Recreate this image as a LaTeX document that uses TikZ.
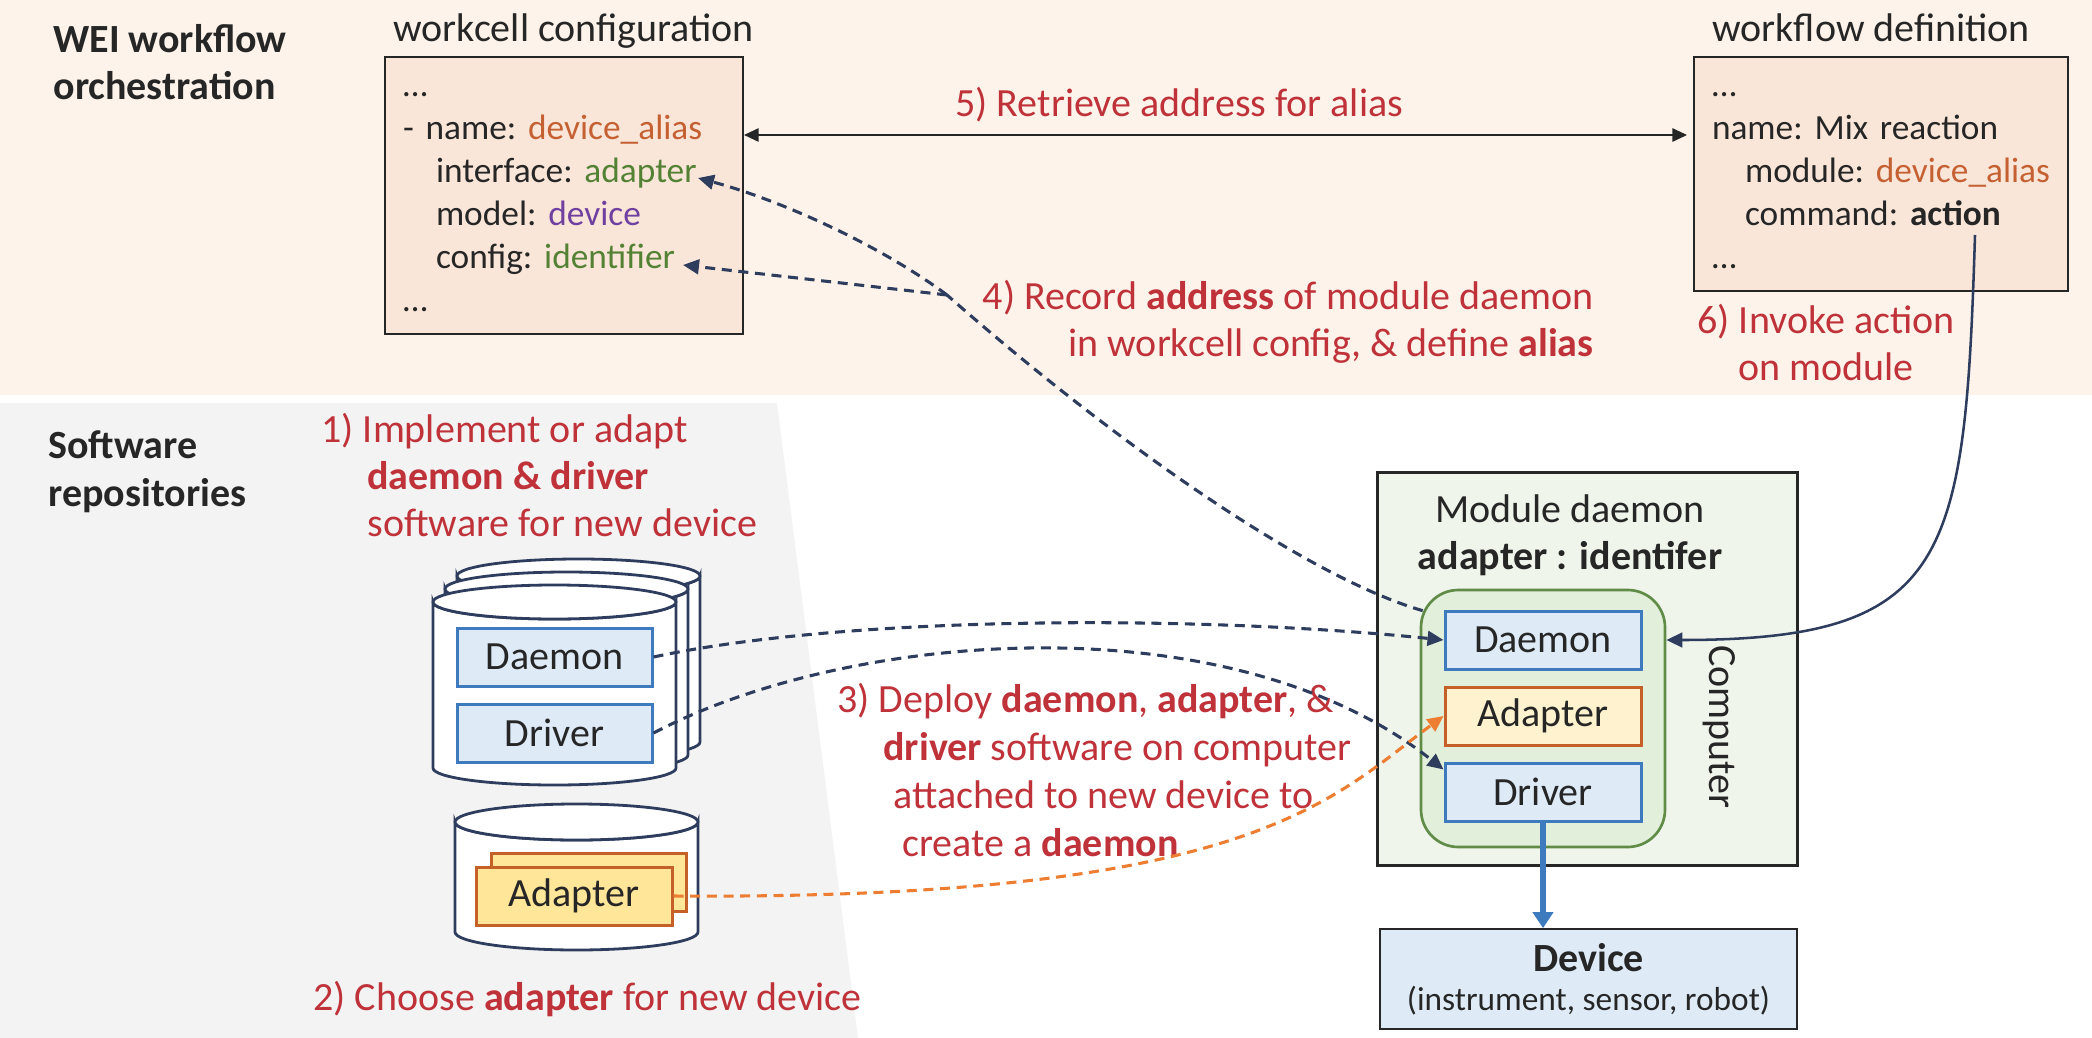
\documentclass[tikz,border=0pt]{standalone}
\usepackage{fontspec}
\setmainfont{Carlito}
\usepackage{tikz}
\usetikzlibrary{arrows.meta,calc}
\definecolor{bandpeach}{RGB}{253,243,234}
\definecolor{repogrey}{RGB}{243,243,243}
\definecolor{cfgfill}{RGB}{250,230,216}
\definecolor{darkline}{RGB}{38,38,38}
\definecolor{darktext}{RGB}{38,38,38}
\definecolor{stepred}{RGB}{192,50,58}
\definecolor{aliasorange}{RGB}{197,96,50}
\definecolor{cfggreen}{RGB}{84,130,53}
\definecolor{devpurple}{RGB}{112,64,160}
\definecolor{navy}{RGB}{46,61,94}
\definecolor{dashorange}{RGB}{237,125,49}
\definecolor{boxblue}{RGB}{61,122,190}
\definecolor{boxbluefill}{RGB}{222,235,247}
\definecolor{adpborder}{RGB}{197,96,40}
\definecolor{adpfill}{RGB}{255,230,153}
\definecolor{adplight}{RGB}{255,243,207}
\definecolor{compfill}{RGB}{240,245,235}
\definecolor{grpfill}{RGB}{226,239,218}
\definecolor{grpgreen}{RGB}{96,140,72}
\tikzset{every picture/.style={line width=0.75pt}}
\tikzset{
  hdr/.style={inner sep=0pt, text=darktext, font=\fontsize{30}{35.25}\selectfont},
  stepnote/.style={inner sep=0pt, text=stepred, align=left, font=\fontsize{30}{35.25}\selectfont},
  cfgbox/.style={draw=darkline, fill=cfgfill, line width=1.5pt, align=left, inner xsep=13.5pt, inner ysep=0pt, text=darktext, font=\fontsize{26.5}{32.25}\selectfont},
  swbox/.style={draw=boxblue, fill=boxbluefill, line width=2.25pt, inner sep=0pt, text=darktext, font=\fontsize{30}{36}\selectfont},
  adpbox/.style={swbox, draw=adpborder, fill=adpfill},
  cyl/.style={draw=navy, fill=white, line width=2.1pt},
  deploy/.style={draw=navy, line width=2.3pt, dash pattern=on 7.5pt off 5pt, -{Triangle[length=12pt,width=11pt]}},
  deployadp/.style={deploy, draw=dashorange},
  retrieve/.style={draw=darkline, line width=1.4pt, {Triangle[length=11pt,width=10pt]}-{Triangle[length=11pt,width=10pt]}},
  invoke/.style={draw=navy, line width=1.9pt, -{Triangle[length=12pt,width=11pt]}}
}

\begin{document}
\begin{tikzpicture}[x=0.75pt,y=0.75pt,yscale=-1,xscale=1]
		%set diagram left start at 0, and has height of 1038
		\useasboundingbox (0,0) rectangle (2092,1038);
		
		%Shape: Rectangle [id:dp3051820471669132] 
		\fill [bandpeach] (0,0) rectangle (2092,395) ;
		%Shape: Trapezoid [id:dp7741039258113406] 
		\fill [repogrey] (0,403) -- (777,403) -- (858,1038) -- (0,1038) -- cycle ;
		
		\node (weititle) [hdr, anchor=north west, align=left, font=\fontsize{30}{35.25}\selectfont\bfseries] at (53,24) {WEI workflow\\orchestration};
		\node (swtitle) [hdr, anchor=north west, align=left, font=\fontsize{30}{36}\selectfont\bfseries] at (48,430) {Software\\repositories};
		
		%Shape: Rectangle [id:dp8835120674407712] 
		\node (wchead) [hdr, anchor=base west] at (393,42) {workcell configuration};
		\node (wcbox) [cfgbox, minimum height=207.75pt, text width=241.5pt] at (564,195.5) {\strut\ldots\\
			- name:~\mbox{\textcolor{aliasorange}{device\_alias}}\\
			\hspace*{24.75pt}interface:~\textcolor{cfggreen}{adapter}\\
			\hspace*{24.75pt}model:~\textcolor{devpurple}{device}\\
			\hspace*{24.75pt}config:~\mbox{\textcolor{cfggreen}{identifier}}\\
			\ldots\strut};
		%Shape: Rectangle [id:dp2197485530016624] 
		\node (wfhead) [hdr, anchor=base west] at (1712,42) {workflow definition};
		\node (wfbox) [cfgbox, minimum height=175.5pt, text width=253.5pt] at (1881,174) {\strut\ldots\\
			name:~Mix~reaction\\
			\hspace*{24.75pt}module:~\mbox{\textcolor{aliasorange}{device\_alias}}\\
			\hspace*{24.75pt}command:~\textbf{action}\\
			\ldots\strut};
		
		%Shape: Can [id:dp5172040861439927] 
		\draw [cyl] (457,576) -- (457,742) arc [start angle=180, end angle=0, x radius=121.5, y radius=17] -- (700,576) arc [start angle=0, end angle=180, x radius=121.5, y radius=17] -- cycle ;
		\draw [cyl] (578.5,576) ellipse [x radius=121.5, y radius=17] ;
		%Shape: Can [id:dp0946612357720185] 
		\draw [cyl] (445,589) -- (445,755) arc [start angle=180, end angle=0, x radius=121.5, y radius=17] -- (688,589) arc [start angle=0, end angle=180, x radius=121.5, y radius=17] -- cycle ;
		\draw [cyl] (566.5,589) ellipse [x radius=121.5, y radius=17] ;
		%Shape: Can [id:dp6628107513448862] 
		\draw [cyl] (433,602) -- (433,768) arc [start angle=180, end angle=0, x radius=121.5, y radius=17] -- (676,602) arc [start angle=0, end angle=180, x radius=121.5, y radius=17] -- cycle ;
		\draw [cyl] (554.5,602) ellipse [x radius=121.5, y radius=17] ;
		%Shape: Can [id:dp4380926619371542] 
		\draw [cyl] (455,822) -- (455,932) arc [start angle=180, end angle=0, x radius=121.5, y radius=18] -- (698,822) arc [start angle=0, end angle=180, x radius=121.5, y radius=18] -- cycle ;
		\draw [cyl] (576.5,822) ellipse [x radius=121.5, y radius=18] ;
		
		\node (rdmn) [swbox, minimum width=146.25pt, minimum height=43.5pt] at (554.5,657) {Daemon};
		\node (rdrv) [swbox, minimum width=146.25pt, minimum height=43.5pt] at (554.5,733) {Driver};
		\node (radpb) [adpbox, minimum width=146.25pt, minimum height=43.5pt] at (588.5,882) {};
		\node (radp) [adpbox, minimum width=147pt, minimum height=43.5pt] at (574,896) {Adapter};
		
		%Shape: Rectangle [id:dp9023316754882210] 
		\node (comp) [draw=darkline, fill=compfill, line width=2.25pt, minimum width=315pt, minimum height=294.75pt, inner sep=0pt] at (1587,668.5) {};
		\node (mdtitle) [hdr, anchor=north, align=center] at (1570,494) {Module daemon\\\textbf{adapter : identifer}};
		\node (grp) [draw=grpgreen, fill=grpfill, line width=2pt, rounded corners=28pt, minimum width=183pt, minimum height=192.75pt] at (1543,718.5) {};
		\node (cdmn) [swbox, minimum width=147pt, minimum height=43.5pt] at (1543,640) {Daemon};
		\node (cadp) [adpbox, fill=adplight, minimum width=147pt, minimum height=43.5pt] at (1543,716) {Adapter};
		\node (cdrv) [swbox, minimum width=147pt, minimum height=43.5pt] at (1543,792) {Driver};
		\node (comptxt) [hdr, rotate=-90] at (1719,727) {Computer};
		
		%Shape: Rectangle [id:dp1458893305267714] 
		\node (dev) [draw=darkline, fill=boxbluefill, line width=1.25pt, minimum width=312.75pt, minimum height=75pt, align=center, text=darktext, font=\fontsize{30}{29}\selectfont] at (1588.5,979) {\textbf{Device}\\{\fontsize{25}{29}\selectfont(instrument, sensor, robot)}};
		
		\node (note1) [stepnote, anchor=north west] at (321,413) {1) Implement or adapt\\\hspace*{34.5pt}\textbf{daemon \& driver}\\\hspace*{34.5pt}software for new device};
		\node (note2) [stepnote, anchor=base west] at (313,1010) {2) Choose \textbf{adapter} for new device};
		\node (note3) [stepnote, anchor=north west, font=\fontsize{30}{36}\selectfont] at (837,683) {3) Deploy \textbf{daemon}, \textbf{adapter}, \&\\\hspace*{34.5pt}\textbf{driver} software on computer\\\hspace*{42pt}attached to new device to\\\hspace*{48.75pt}create a \textbf{daemon}};
		\node (note4) [stepnote, anchor=north east, align=right] at (1594,280) {4) Record \textbf{address} of module daemon\\in workcell config, \& define \textbf{alias}};
		\node (note5) [stepnote, anchor=base west] at (955,117) {5) Retrieve address for alias};
		\node (note6) [stepnote, anchor=north, align=center] at (1826,304) {6) Invoke action\\on module};
		
		\coordinate (split) at (947,295);
		\coordinate (wcadp) at (698,178);
		\coordinate (wcid) at (683,265);
		\coordinate (act) at (1975,235);
		
		%Straight Lines [id:da6650238145810177] 
		\draw [retrieve] ($(wcbox.north east)+(0,79)$) -- ($(wfbox.north west)+(-6,79)$) ;
		
		%Curve Lines [id:da2981564870037726] 
		\draw [deploy, -] ($(grp.north west)+(3,22)$) .. controls (1300,575) and (1100,430) .. (split) ;
		\draw [deploy] (split) .. controls (880,245) and (780,200) .. (wcadp) ;
		\draw [deploy] (split) -- (wcid) ;
		
		%Curve Lines [id:da4410278390154273] 
		\draw [deploy] (rdmn.east) .. controls (850,615) and (1200,615) .. (cdmn.west) ;
		\draw [deploy] (rdrv.east) .. controls (850,630) and (1230,600) .. ($(cdrv.north west)+(0,8)$) ;
		\draw [deployadp] (radp.east) .. controls (1250,900) and (1330,800) .. (cadp.west) ;
		
		%Curve Lines [id:da0772318459141655] 
		\draw [invoke] (act) .. controls (1965,560) and (1950,640) .. (grp.east |- cdmn.west) ;
		
		%Straight Lines [id:da3316627014523580] 
		\draw [draw=boxblue, line width=4pt, -{Triangle[length=12pt,width=15pt]}] (cdrv.south) -- (cdrv.south |- dev.north) ;
		
\end{tikzpicture}
\end{document}
